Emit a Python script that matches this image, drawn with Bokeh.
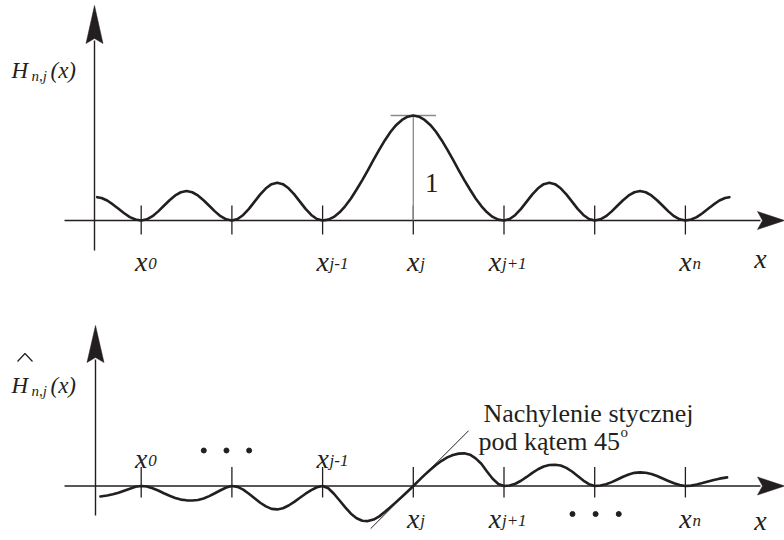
from bokeh.plotting import figure
from bokeh.models import Range1d
from bokeh.embed import file_html
from bokeh.resources import INLINE
from bokeh.core.properties import value

# ---------------- data ----------------
nodes = [0, 1, 2, 3, 4, 5, 6]
node_subs = ["0", "", "j-1", "j", "j+1", "", "n"]

# upper curve H_{n,j}(x), sampled every 1/16 of a node step
x_top = [-0.485, -0.4375, -0.375, -0.3125, -0.25, -0.1875, -0.125, -0.0625, 0.0,
         0.0625, 0.125, 0.1875, 0.25, 0.3125, 0.375, 0.4375, 0.5,
         0.5625, 0.625, 0.6875, 0.75, 0.8125, 0.875, 0.9375, 1.0,
         1.0625, 1.125, 1.1875, 1.25, 1.3125, 1.375, 1.4375, 1.5,
         1.5625, 1.625, 1.6875, 1.75, 1.8125, 1.875, 1.9375, 2.0,
         2.0625, 2.125, 2.1875, 2.25, 2.3125, 2.375, 2.4375, 2.5,
         2.5625, 2.625, 2.6875, 2.75, 2.8125, 2.875, 2.9375, 3.0,
         3.0625, 3.125, 3.1875, 3.25, 3.3125, 3.375, 3.4375, 3.5,
         3.5625, 3.625, 3.6875, 3.75, 3.8125, 3.875, 3.9375, 4.0,
         4.0625, 4.125, 4.1875, 4.25, 4.3125, 4.375, 4.4375, 4.5,
         4.5625, 4.625, 4.6875, 4.75, 4.8125, 4.875, 4.9375, 5.0,
         5.0625, 5.125, 5.1875, 5.25, 5.3125, 5.375, 5.4375, 5.5,
         5.5625, 5.625, 5.6875, 5.75, 5.8125, 5.875, 5.9375, 6.0,
         6.0625, 6.125, 6.1875, 6.25, 6.3125, 6.375, 6.4375, 6.485]
h_top = [0.222, 0.214, 0.19, 0.153, 0.111, 0.069, 0.032, 0.009, 0.0,
         0.011, 0.041, 0.087, 0.14, 0.193, 0.239, 0.269, 0.28,
         0.269, 0.239, 0.193, 0.14, 0.087, 0.041, 0.011, 0.0,
         0.014, 0.053, 0.111, 0.18, 0.249, 0.307, 0.346, 0.36,
         0.346, 0.307, 0.249, 0.18, 0.111, 0.053, 0.014, 0.0,
         0.008, 0.034, 0.078, 0.138, 0.21, 0.295, 0.385, 0.48,
         0.58, 0.675, 0.765, 0.845, 0.91, 0.958, 0.989, 1.0,
         0.989, 0.958, 0.91, 0.845, 0.765, 0.675, 0.58, 0.48,
         0.385, 0.295, 0.21, 0.138, 0.078, 0.034, 0.008, 0.0,
         0.014, 0.053, 0.111, 0.18, 0.249, 0.307, 0.346, 0.36,
         0.346, 0.307, 0.249, 0.18, 0.111, 0.053, 0.014, 0.0,
         0.011, 0.041, 0.087, 0.14, 0.193, 0.239, 0.269, 0.28,
         0.269, 0.239, 0.193, 0.14, 0.087, 0.041, 0.011, 0.0,
         0.009, 0.032, 0.069, 0.111, 0.153, 0.19, 0.214, 0.222]

# lower curve H^_{n,j}(x)
x_bot = [-0.45, -0.375, -0.3125, -0.25, -0.1875, -0.125, -0.0625, 0.0,
         0.0625, 0.125, 0.1875, 0.25, 0.3125, 0.375, 0.4375, 0.5,
         0.5625, 0.625, 0.6875, 0.75, 0.8125, 0.875, 0.9375, 1.0,
         1.0625, 1.125, 1.1875, 1.25, 1.3125, 1.375, 1.4375, 1.5,
         1.5625, 1.625, 1.6875, 1.75, 1.8125, 1.875, 1.9375, 2.0,
         2.0625, 2.125, 2.1875, 2.25, 2.3125, 2.375, 2.4375, 2.5,
         2.5625, 2.625, 2.6875, 2.75, 2.8125, 2.875, 2.9375, 3.0,
         3.0625, 3.125, 3.1875, 3.25, 3.3125, 3.375, 3.4375, 3.5,
         3.5625, 3.625, 3.6875, 3.75, 3.8125, 3.875, 3.9375, 4.0,
         4.0625, 4.125, 4.1875, 4.25, 4.3125, 4.375, 4.4375, 4.5,
         4.5625, 4.625, 4.6875, 4.75, 4.8125, 4.875, 4.9375, 5.0,
         5.0625, 5.125, 5.1875, 5.25, 5.3125, 5.375, 5.4375, 5.5,
         5.5625, 5.625, 5.6875, 5.75, 5.8125, 5.875, 5.9375, 6.0,
         6.0625, 6.125, 6.1875, 6.25, 6.3125, 6.375, 6.46]
h_bot = [-0.115, -0.105, -0.092, -0.075, -0.052, -0.03, -0.009, 0.0,
         -0.006, -0.024, -0.05, -0.08, -0.108, -0.133, -0.15, -0.158,
         -0.16, -0.155, -0.138, -0.112, -0.08, -0.047, -0.017, 0.0,
         -0.01, -0.04, -0.085, -0.135, -0.185, -0.225, -0.252, -0.258,
         -0.245, -0.215, -0.175, -0.13, -0.085, -0.045, -0.014, 0.0,
         -0.025, -0.085, -0.16, -0.235, -0.305, -0.355, -0.383, -0.387,
         -0.37, -0.335, -0.285, -0.23, -0.175, -0.118, -0.06, 0.0,
         0.062, 0.123, 0.18, 0.232, 0.278, 0.315, 0.342, 0.357,
         0.36, 0.345, 0.305, 0.245, 0.16, 0.08, 0.022, 0.0,
         0.006, 0.025, 0.058, 0.1, 0.145, 0.185, 0.215, 0.232,
         0.235, 0.226, 0.2, 0.16, 0.11, 0.06, 0.02, 0.0,
         0.005, 0.02, 0.043, 0.072, 0.102, 0.127, 0.145, 0.15,
         0.146, 0.132, 0.11, 0.083, 0.055, 0.03, 0.01, 0.0,
         0.004, 0.016, 0.032, 0.05, 0.067, 0.081, 0.095]

peak_value = 1.0          # H_{n,j}(x_j) = 1
tangent_slope = 1.0       # 45 degree tangent at x_j
tangent_x = [2.53, 3.61]
dots_above = [0.69, 0.94, 1.19]
dots_below = [4.755, 5.01, 5.265]

label_1 = "1"
note_line1 = "Nachylenie stycznej"
note_line2 = "pod kątem 45"
note_sup = "o"

# ---------------- geometry ----------------
W, H = 784, 540
X0_PX = 140.7          # pixel column of node 0
UX = 90.7              # pixels per node step
AX_TOP = 220.0         # pixel row of the upper x-axis
UY_TOP = 105.0
AX_BOT = 485.5         # pixel row of the lower x-axis
UY_BOT = 90.7


def tx(px):
    return (px - X0_PX) / UX


def ty(py):
    return (AX_TOP - py) / UY_TOP


def by(py):
    return (AX_BOT - py) / UY_BOT


INK = "#231f20"
SERIF = value("Liberation Serif")

p = figure(width=W, height=H, output_backend="svg", toolbar_location=None,
           x_axis_type=None, y_axis_type=None, min_border=0,
           x_range=Range1d(tx(0), tx(W)), y_range=Range1d(ty(H), ty(0)))
p.extra_y_ranges = {"bot": Range1d(by(H), by(0))}
p.outline_line_color = None
p.background_fill_color = "white"
p.border_fill_color = "white"

BOT = dict(y_range_name="bot")


def draw_axes(yfun, rng, yaxis_px, ytip_px, ybase_px, ybottom_px, uy):
    ax = tx(yaxis_px)
    hw = 8.5 / UX
    p.line([ax, ax], [yfun(ybottom_px), yfun(ybase_px - 3)], line_color=INK,
           line_width=1.4, **rng)
    p.patch([ax, ax + hw, ax, ax - hw],
            [yfun(ytip_px), yfun(ybase_px), yfun(ybase_px - 5), yfun(ybase_px)],
            fill_color=INK, line_color=INK, line_width=0.5, **rng)
    hh = 9.0 / uy
    p.line([tx(64), tx(760)], [0, 0], line_color=INK, line_width=1.4, **rng)
    p.patch([tx(784), tx(757), tx(762), tx(757)], [0, hh, 0, -hh],
            fill_color=INK, line_color=INK, line_width=0.5, **rng)


def italic(xs, ys, txt, size, rng, align="left", xoff=0, yoff=0):
    p.text(xs, ys, text=txt, x_offset=xoff, y_offset=yoff, text_font=SERIF,
           text_font_style="italic", text_font_size=size, text_align=align,
           text_baseline="alphabetic", text_color=INK, **rng)


def node_label(xc, yoff, sub, rng):
    italic([xc], [0], ["x"], "28px", rng, align="center", yoff=yoff)
    if sub:
        italic([xc], [0], [sub], "17px", rng, xoff=7, yoff=yoff + 2)


def hlabel(yfun, base_py, rng):
    italic([tx(11)], [yfun(base_py)], ["H"], "23px", rng)
    italic([tx(31)], [yfun(base_py + 5)], ["n,j"], "15px", rng)
    italic([tx(50)], [yfun(base_py)], ["(x)"], "23px", rng)


TOPR = {}

# ---------------- upper panel ----------------
draw_axes(ty, TOPR, 94, 5, 43, 250, UY_TOP)
p.segment(x0=nodes, y0=[ty(234)] * 7, x1=nodes, y1=[ty(205)] * 7,
          line_color=INK, line_width=1.3)
p.segment(x0=[3], y0=[0], x1=[3], y1=[peak_value], line_color="#8a8a8a", line_width=1.3)
p.segment(x0=[3 - 0.25], y0=[peak_value], x1=[3 + 0.25], y1=[peak_value],
          line_color="#8a8a8a", line_width=1.3)
p.line(x_top, h_top, line_color=INK, line_width=2.6, line_join="round", line_cap="round")
p.text([3.13], [ty(182)], text=[label_1], text_font=SERIF, text_font_size="27px",
       text_baseline="alphabetic", text_color=INK)
for k, s in zip(nodes, node_subs):
    if not s:
        continue
    xc = k - 0.1 if s == "j+1" else k
    node_label(xc, 41, s, TOPR)
italic([tx(760)], [ty(258)], ["x"], "28px", TOPR, align="center")
hlabel(ty, 70, TOPR)

# ---------------- lower panel ----------------
draw_axes(by, BOT, 95, 325, 362, 515, UY_BOT)
p.segment(x0=nodes, y0=[by(497)] * 7, x1=nodes, y1=[by(466.5)] * 7,
          line_color=INK, line_width=1.3, **BOT)
p.line(tangent_x, [tangent_slope * (t - 3) for t in tangent_x], line_color=INK,
       line_width=1.0, **BOT)
p.line(x_bot, h_bot, line_color=INK, line_width=2.6, line_join="round", line_cap="round", **BOT)
for k, s in zip(nodes, node_subs):
    if not s:
        continue
    if k in (0, 2):
        node_label(k, -27.5, s, BOT)
    else:
        xc = k - 0.1 if s == "j+1" else k
        node_label(xc, 32.5, s, BOT)
italic([tx(760)], [by(520)], ["x"], "28px", BOT, align="center")
p.scatter(dots_above, [by(450)] * 3, size=5, color=INK, **BOT)
p.scatter(dots_below, [by(513.5)] * 3, size=5, color=INK, **BOT)
hlabel(by, 385, BOT)
p.line([tx(17), tx(24.5), tx(32)], [by(361), by(353), by(361)], line_color=INK,
       line_width=1.2, **BOT)
p.text([tx(483)], [by(413)], text=[note_line1], text_font=SERIF, text_font_size="26px",
       text_baseline="alphabetic", text_color=INK, **BOT)
p.text([tx(478)], [by(441)], text=[note_line2], text_font=SERIF, text_font_size="26px",
       text_baseline="alphabetic", text_color=INK, **BOT)
p.text([tx(620)], [by(431)], text=[note_sup], text_font=SERIF, text_font_size="15px",
       text_baseline="alphabetic", text_color=INK, **BOT)

open("out.html", "w").write(file_html(p, INLINE))
